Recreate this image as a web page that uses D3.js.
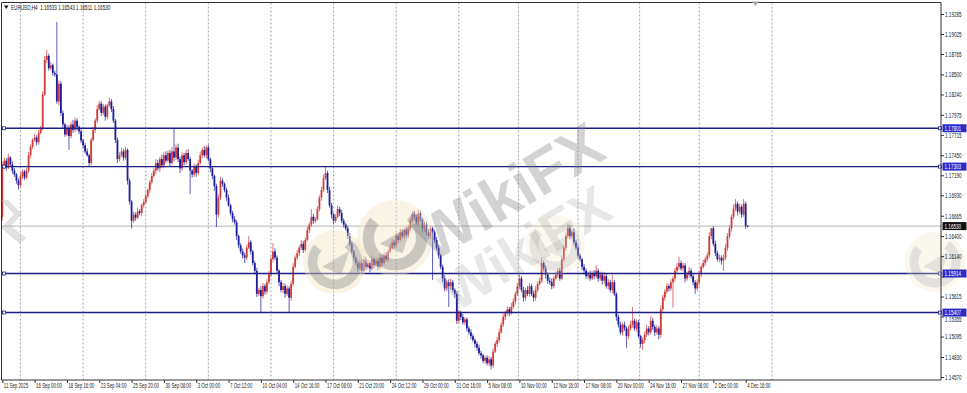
<!DOCTYPE html>
<html><head><meta charset="utf-8">
<script src="https://cdn.jsdelivr.net/npm/d3@7"></script>
<style>html,body{margin:0;padding:0;background:#fff;overflow:hidden}text{font-family:"Liberation Sans",Arial,sans-serif}</style>
</head><body><svg id="c" width="967" height="393"></svg>
<script>
// ---------------- data ----------------
const symbolTitle = "EURUSD,H4";
const lastQuote = ["1.16533", "1.16543", "1.16511", "1.16530"];
// prices in points (price x 10000); open of each bar = previous close
const firstOpen = 11665;
const closes = [
11730,11738,11729,11742,11733,11725,11720,11712,11706,11718,
11724,11716,11725,11745,11756,11765,11768,11762,11774,11780,
11824,11869,11874,11858,11862,11852,11850,11815,11838,11800,
11785,11772,11780,11770,11785,11778,11790,11782,11776,11764,
11758,11750,11745,11735,11765,11778,11790,11805,11812,11800,
11808,11795,11810,11815,11805,11790,11765,11740,11745,11750,
11742,11752,11712,11685,11660,11668,11664,11672,11670,11680,
11684,11692,11700,11710,11718,11725,11735,11728,11740,11732,
11745,11738,11748,11735,11750,11742,11755,11740,11728,11745,
11736,11748,11740,11725,11720,11730,11722,11735,11745,11752,
11745,11755,11740,11728,11718,11705,11668,11690,11712,11708,
11700,11690,11680,11670,11662,11658,11640,11628,11620,11615,
11612,11625,11632,11620,11605,11595,11565,11570,11562,11575,
11568,11580,11590,11610,11620,11612,11595,11580,11570,11575,
11565,11572,11560,11578,11600,11612,11618,11625,11630,11622,
11635,11648,11655,11665,11660,11662,11675,11690,11700,11715,
11722,11700,11680,11668,11660,11665,11675,11670,11660,11655,
11650,11640,11630,11620,11612,11605,11598,11605,11595,11610,
11600,11605,11598,11610,11602,11608,11600,11612,11605,11615,
11610,11620,11625,11632,11628,11640,11635,11645,11640,11648,
11642,11650,11660,11668,11665,11658,11670,11662,11650,11655,
11645,11640,11650,11645,11635,11625,11615,11600,11585,11572,
11580,11575,11580,11570,11565,11530,11540,11535,11528,11532,
11520,11515,11510,11505,11500,11495,11488,11485,11478,11482,
11475,11480,11472,11490,11500,11505,11515,11525,11535,11540,
11545,11540,11548,11555,11565,11575,11585,11570,11560,11570,
11565,11575,11565,11560,11570,11578,11582,11605,11598,11590,
11582,11580,11575,11585,11590,11595,11585,11610,11625,11640,
11650,11640,11645,11632,11625,11615,11610,11600,11595,11588,
11590,11585,11592,11588,11595,11585,11590,11582,11588,11575,
11580,11570,11580,11565,11535,11525,11515,11525,11520,11510,
11520,11525,11530,11520,11528,11510,11500,11505,11512,11520,
11515,11530,11522,11515,11520,11512,11545,11560,11568,11575,
11572,11580,11585,11595,11600,11605,11598,11602,11585,11590,
11595,11588,11580,11572,11580,11590,11600,11605,11610,11615,
11640,11650,11630,11618,11610,11612,11608,11612,11625,11640,
11650,11665,11676,11682,11672,11678,11668,11682,11653.3,11653.0];
// wick lengths in points above / below the body
const upperWick = [
7,4,3,5,2,4,3,2,3,4, 3,2,3,4,3,2,5,3,4,3, 4,5,8,3,4,2,3,68,4,3, 3,2,5,4,3,6,4,3,2,3,
2,3,4,2,3,4,3,5,4,3, 4,3,2,5,3,4,2,3,4,5, 3,4,2,3,2,4,3,5,3,2, 4,3,2,3,4,3,5,4,3,6,
4,5,3,4,6,30,4,5,3,4, 3,4,5,3,2,4,3,4,5,3, 5,3,4,2,3,2,3,4,5,3, 2,3,4,2,3,4,3,2,3,4,
3,4,8,3,2,3,4,3,5,4, 3,4,5,3,11,4,3,2,3,4, 3,4,3,4,5,3,4,3,5,4, 3,4,3,10,4,3,4,3,4,5,
8,3,4,3,2,4,5,3,4,3, 2,3,4,3,2,3,4,3,5,4, 3,4,3,5,2,4,3,5,4,3, 4,3,5,4,3,4,3,5,4,3,
4,5,3,4,5,3,4,3,2,4, 3,4,3,2,3,4,3,2,3,4, 3,4,5,3,2,3,4,3,4,3, 2,3,4,3,2,3,4,3,2,3,
3,4,3,4,3,4,5,3,4,3, 4,3,5,4,3,4,5,3,4,3, 5,4,3,4,5,3,4,7,3,4, 3,4,5,3,4,3,4,5,3,4,
6,4,3,5,3,4,3,2,4,3, 4,5,3,4,7,3,4,3,5,3, 4,3,10,3,2,3,4,3,4,3, 4,5,18,3,4,3,2,3,4,5,
3,6,4,3,4,3,5,4,3,4, 3,4,3,4,5,8,3,4,3,4, 5,3,4,3,4,5,3,4,3,4, 5,1,3,4,3,4,3,4,5,4,
4,3,5,6,3,4,3,6,3,1.0];
const lowerWick = [
5,3,4,2,3,4,3,4,6,3, 4,3,2,3,4,3,2,4,3,2, 3,2,4,3,2,4,3,3,5,4, 4,3,2,18,3,4,3,5,4,3,
4,3,2,5,3,2,4,3,2,4, 3,5,3,2,4,3,4,5,3,2, 4,3,5,4,10,3,4,2,3,4, 3,2,3,4,3,2,4,3,5,3,
4,3,2,4,3,5,3,4,6,3, 4,3,2,30,4,3,5,3,2,4, 3,4,3,5,4,6,16,4,3,4, 3,4,2,3,4,3,5,4,3,4,
7,3,2,4,3,5,4,3,22,3, 4,3,2,3,4,3,4,5,3,4, 5,3,20,4,3,2,3,4,3,4, 3,2,4,3,4,3,2,3,4,3,
2,4,3,5,4,3,2,4,3,4, 3,4,3,2,4,3,5,3,4,3, 4,3,5,3,4,2,4,3,4,3, 3,4,2,3,4,3,4,2,3,4,
3,4,3,2,4,3,4,3,5,4, 3,4,3,62,4,3,4,3,5,4, 3,27,4,3,5,4,3,4,3,4, 4,3,4,3,5,4,3,4,3,4,
3,4,5,3,2,4,3,2,3,4, 3,4,2,3,4,3,4,3,5,4, 3,4,3,5,4,3,2,3,4,5, 4,3,4,3,2,4,3,2,3,4,
3,4,3,4,3,4,3,4,5,3, 4,3,2,4,3,4,3,5,4,3, 4,3,4,3,5,4,3,4,3,15, 4,3,4,3,4,3,5,8,4,3,
4,3,4,5,3,6,4,3,4,3, 4,3,33,4,3,4,3,4,5,3, 4,3,4,7,3,4,3,2,4,3, 3,4,3,4,3,4,5,13,3,4,
3,4,3,4,5,3,4,3,4,1.9];
const priceTicks = [1.19285,1.19025,1.18765,1.18500,1.18240,1.17975,1.17715,1.17450,1.17190,
  1.16930,1.16665,1.16400,1.16140,1.15875,1.15615,1.15355,1.15095,1.14830,1.14570];
const timeLabels = ["11 Sep 2025","16 Sep 00:00","18 Sep 16:00","23 Sep 04:00","25 Sep 20:00",
  "30 Sep 08:00","3 Oct 00:00","7 Oct 12:00","10 Oct 04:00","14 Oct 16:00","17 Oct 08:00",
  "21 Oct 20:00","24 Oct 12:00","29 Oct 00:00","31 Oct 16:00","5 Nov 08:00","10 Nov 00:00",
  "12 Nov 16:00","17 Nov 08:00","20 Nov 00:00","24 Nov 16:00","27 Nov 08:00","2 Dec 00:00","4 Dec 16:00"];
const timeLabelBars = [0,16,32,48,64,80,96,112,128,144,160,176,192,208,224,240,256,272,288,304,320,336,352,368];
const gridBars = [9,40,71,102,133,164,195,226,255.5,285,315.5,345,381];
const levels = [1.17801, 1.17303, 1.15914, 1.15407];
const bidPrice = 1.16530;

// ---------------- layout ----------------
const plot = {left:1.5, top:2.5, right:941, bottom:380};
const bullColor = "#cf3c3a", bearColor = "#1e1e9c", levelColor = "#1d1d84";
const FS = 6.8;
const svg = d3.select("#c");
const x = d3.scaleLinear().domain([0, 369]).range([2.3, 747.68]);
const y = d3.scaleLinear().domain([1.14570, 1.19285]).range([377, 14]);

const bars = closes.map((c, i) => {
  const o = i === 0 ? firstOpen : closes[i - 1];
  return {i, o: o / 1e4, c: c / 1e4,
    h: (Math.max(o, c) + upperWick[i]) / 1e4,
    l: (Math.min(o, c) - lowerWick[i]) / 1e4};
});

svg.append("rect").attr("width", 967).attr("height", 393).attr("fill", "#fff");

// vertical dashed grid
svg.append("g").selectAll("line").data(gridBars).join("line")
  .attr("x1", d => x(d)).attr("x2", d => x(d))
  .attr("y1", plot.top).attr("y2", plot.bottom)
  .attr("stroke", "#8c8c8c").attr("stroke-width", 0.8).attr("stroke-dasharray", "2,2");

// bid line
svg.append("line").attr("x1", plot.left).attr("x2", plot.right)
  .attr("y1", y(bidPrice)).attr("y2", y(bidPrice))
  .attr("stroke", "#b4b4b4").attr("stroke-width", 1);

// candles
const cg = svg.append("g");
cg.selectAll("line").data(bars).join("line")
  .attr("x1", d => x(d.i)).attr("x2", d => x(d.i))
  .attr("y1", d => y(d.h)).attr("y2", d => y(d.l))
  .attr("stroke", d => d.c >= d.o ? bullColor : bearColor)
  .attr("stroke-width", 0.9).attr("opacity", 0.8);
cg.selectAll("rect").data(bars).join("rect")
  .attr("x", d => x(d.i) - 0.9).attr("width", 1.8)
  .attr("y", d => y(Math.max(d.o, d.c)))
  .attr("height", d => Math.max(1, Math.abs(y(d.o) - y(d.c))))
  .attr("fill", d => d.c >= d.o ? bullColor : bearColor);

// horizontal level lines
const lg = svg.append("g");
lg.selectAll("line").data(levels).join("line")
  .attr("x1", plot.left).attr("x2", plot.right)
  .attr("y1", d => y(d)).attr("y2", d => y(d))
  .attr("stroke", levelColor).attr("stroke-width", 1.4);
lg.selectAll("rect.l").data(levels).join("rect").attr("class", "l")
  .attr("x", 2.5).attr("y", d => y(d) - 1.5).attr("width", 3).attr("height", 3)
  .attr("fill", "#fff").attr("stroke", levelColor).attr("stroke-width", 0.8);
lg.selectAll("rect.r").data(levels).join("rect").attr("class", "r")
  .attr("x", 938.5).attr("y", d => y(d) - 1.5).attr("width", 3).attr("height", 3)
  .attr("fill", "#fff").attr("stroke", levelColor).attr("stroke-width", 0.8);

// watermark
const wm = svg.append("g").attr("pointer-events", "none");
function logo(cx, cy, r, col, op) {
  const g = wm.append("g").attr("transform", `translate(${cx},${cy})`).attr("opacity", op);
  g.append("circle").attr("r", r).attr("fill", "#f3e6c2").attr("opacity", 0.55);
  g.append("path").attr("d", d3.arc()({innerRadius: r * 0.55, outerRadius: r * 0.85, startAngle: 0.6, endAngle: 5.4}))
    .attr("fill", col).attr("opacity", 0.5);
  g.append("path").attr("d", `M${-r*0.4},${r*0.15} L${r*0.45},${-r*0.35} L${r*0.2},${r*0.4} Z`).attr("fill", col).attr("opacity", 0.45);
}
logo(335, 262, 32, "#8a8a8a", 0.8);
logo(395, 238, 38, "#777", 0.75);
logo(555, 245, 30, "#999", 0.45);
logo(935, 262, 30, "#999", 0.5);
wm.append("text").text("WikiFX").attr("transform", "translate(512,196) rotate(-31)")
  .attr("text-anchor", "middle").attr("dominant-baseline", "middle")
  .attr("font-size", 62).attr("font-weight", "bold").attr("fill", "#7d7d7d").attr("opacity", 0.33);
wm.append("text").text("WikiFX").attr("transform", "translate(528,252) rotate(-31)")
  .attr("text-anchor", "middle").attr("dominant-baseline", "middle")
  .attr("font-size", 56).attr("font-weight", "bold").attr("fill", "#8d8d8d").attr("opacity", 0.2);
wm.append("path").attr("d", "M1,200 L14,214 L1,228 L20,244 L26,238 L11,226 L22,214 L8,200 Z")
  .attr("fill", "#bdbdbd").attr("opacity", 0.45);

// frame
svg.append("g").selectAll("line").data([
  [plot.left, plot.top, plot.right, plot.top],
  [plot.left, plot.top, plot.left, plot.bottom],
  [plot.left, plot.bottom, plot.right, plot.bottom],
  [plot.right, plot.top, plot.right, plot.bottom]]).join("line")
  .attr("x1", d => d[0]).attr("y1", d => d[1]).attr("x2", d => d[2]).attr("y2", d => d[3])
  .attr("stroke", "#333").attr("stroke-width", 1);

// price axis (labels hidden under a level box are dropped, partly covered ones slip just below it)
const SX = 0.68;
const boxVals = levels.concat([bidPrice]);
const covering = v => boxVals.find(b => Math.abs(y(b) - y(v)) < 6);
const ya = svg.append("g").attr("transform", `translate(${plot.right},0)`)
  .call(d3.axisRight(y).tickValues(priceTicks)
    .tickFormat(v => { const b = covering(v); return (b !== undefined && Math.abs(y(b) - y(v)) < 3.5) ? "" : d3.format(".5f")(v); })
    .tickSize(3).tickPadding(1));
ya.select(".domain").remove();
ya.selectAll("line").attr("stroke", "#333");
ya.selectAll("text").attr("font-size", FS).attr("fill", "#222")
  .attr("x", 4 / SX)
  .attr("dy", d => { const b = covering(d); if (b === undefined) return "0.34em";
      const shift = y(d) > y(b) ? (y(b) + 4.3 + 5 - y(d)) : (y(b) - 4.3 - y(d));
      return (shift) + "px"; })
  .attr("transform", `scale(${SX},1)`)
  .style("font-family", '"Liberation Sans",Arial,sans-serif');

// time axis
const TX = 0.64;
const xa = svg.append("g").attr("transform", `translate(0,${plot.bottom})`)
  .call(d3.axisBottom(x).tickValues(timeLabelBars).tickFormat((d, i) => timeLabels[i]).tickSize(3).tickPadding(1));
xa.select(".domain").remove();
xa.selectAll("line").attr("stroke", "#333");
xa.selectAll("text").attr("font-size", FS).attr("fill", "#222").attr("text-anchor", "start")
  .attr("x", 1 / TX).attr("y", 3).attr("dy", "0.72em").attr("transform", `scale(${TX},1)`)
  .style("font-family", '"Liberation Sans",Arial,sans-serif');

// level price boxes
const lb = svg.append("g");
const boxData = levels.map(v => ({v, fill: "#2a2ac8"})).concat([{v: bidPrice, fill: "#111"}]);
lb.selectAll("rect").data(boxData).join("rect")
  .attr("x", 942.5).attr("y", d => y(d.v) - 4).attr("width", 24).attr("height", 8)
  .attr("fill", d => d.fill);
lb.selectAll("text").data(boxData).join("text")
  .attr("transform", d => `translate(944.5,${y(d.v) + 2.4}) scale(${SX},1)`)
  .attr("font-size", FS).attr("fill", "#fff").text(d => d3.format(".5f")(d.v));

// header
svg.append("path").attr("d", "M4,5.5 L8.5,5.5 L6.25,9 Z").attr("fill", "#111");
svg.append("text").attr("transform", `translate(11,9.8) scale(${SX},1)`)
  .attr("font-size", FS).attr("fill", "#111").style("white-space", "pre")
  .text(symbolTitle + "  " + lastQuote.join(" "));
// chart-shift marker
svg.append("path").attr("d", "M752,1.5 L759,1.5 L755.5,6 Z").attr("fill", "#a8a8a8");
</script>
</body></html>
